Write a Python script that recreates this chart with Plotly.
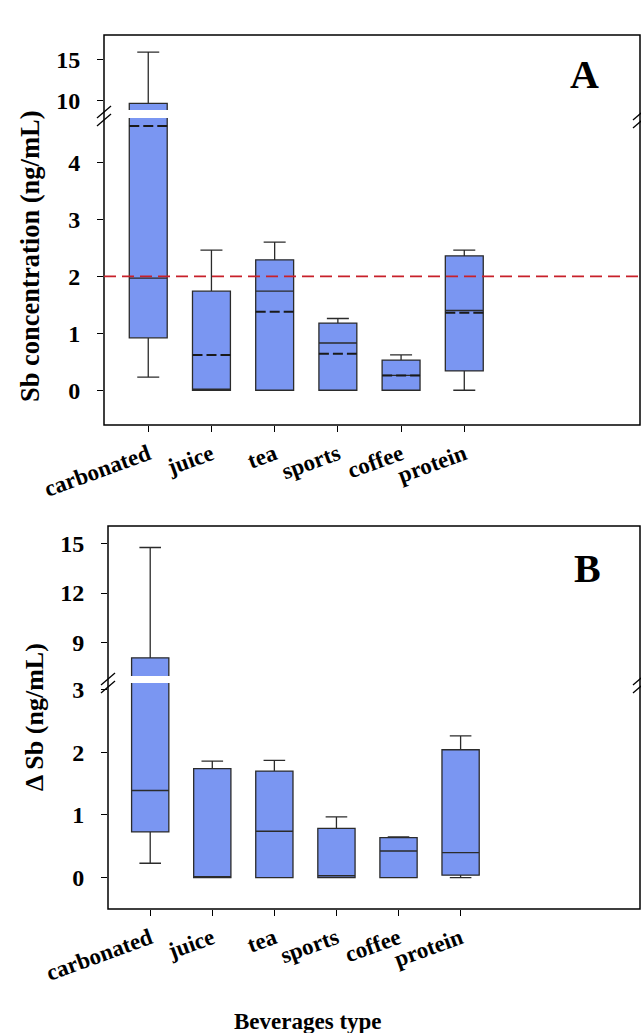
import plotly.graph_objects as go

W, H = 641, 1033

categories = ["carbonated", "juice", "tea", "sports", "coffee", "protein"]

# Panel A: Sb concentration (ng/mL)
a_lower = [0.23, 0.0, 0.0, 0.0, 0.0, 0.0]
a_q1 = [0.92, 0.0, 0.0, 0.0, 0.0, 0.34]
a_median = [1.97, 0.0, 1.74, 0.83, 0.26, 1.40]
a_q3 = [9.72, 1.74, 2.29, 1.18, 0.53, 2.36]
a_upper = [15.85, 2.46, 2.60, 1.26, 0.62, 2.46]
a_mean = [4.64, 0.62, 1.38, 0.64, 0.26, 1.36]
a_limit = 2.0

# Panel B: delta Sb (ng/mL)
b_lower = [0.23, 0.0, 0.0, 0.0, 0.0, 0.0]
b_q1 = [0.73, 0.0, 0.0, 0.0, 0.0, 0.04]
b_median = [1.39, 0.0, 0.74, 0.03, 0.425, 0.40]
b_q3 = [8.09, 1.74, 1.70, 0.785, 0.64, 2.04]
b_upper = [14.75, 1.86, 1.87, 0.97, 0.65, 2.26]

a_ticks_low = [0, 1, 2, 3, 4]
a_ticks_high = [10, 15]
b_ticks_low = [0, 1, 2, 3]
b_ticks_high = [9, 12, 15]

BOX_W = 0.6
positions = list(range(len(categories)))


def px(x):
    return x / W


def py(y):
    return 1 - y / H


FONT = "Liberation Serif"
FILL = "#7A96F2"
EDGE = "#2b2b2b"

fig = go.Figure()


def add_boxes(xa, ya, lf, q1, med, q3, uf):
    fig.add_trace(go.Box(
        x=positions, lowerfence=lf, q1=q1, median=med, q3=q3, upperfence=uf,
        fillcolor=FILL, line=dict(color=EDGE, width=1.3), width=BOX_W,
        whiskerwidth=0.58, boxpoints=False, showlegend=False,
        xaxis=xa, yaxis=ya, hoverinfo="skip",
    ))


def add_means(xa, ya, means):
    xs, ys = [], []
    for p, m in zip(positions, means):
        xs += [p - BOX_W / 2, p + BOX_W / 2, None]
        ys += [m, m, None]
    fig.add_trace(go.Scatter(x=xs, y=ys, mode="lines", xaxis=xa, yaxis=ya,
                             line=dict(color="#1a1a1a", width=2, dash="10px,4px"),
                             showlegend=False, hoverinfo="skip"))


for ya in ("y", "y2"):
    add_boxes("x", ya, a_lower, a_q1, a_median, a_q3, a_upper)
    add_means("x", ya, a_mean)
for ya in ("y3", "y4"):
    add_boxes("x2", ya, b_lower, b_q1, b_median, b_q3, b_upper)

tickfont = dict(family=FONT, size=24, color="black", weight="bold")
xtickfont = dict(family=FONT, size=23, color="black", weight="bold")

yax_common = dict(ticks="outside", ticklen=6, tickwidth=1.2, tickcolor="black",
                  showgrid=False, zeroline=False, showline=False, automargin=False,
                  tickfont=tickfont, ticklabelstandoff=12)
xax_common = dict(tickvals=positions, ticktext=categories, ticks="outside",
                  ticklen=6, tickwidth=1.2, tickcolor="black", showgrid=False,
                  showline=False, zeroline=False, automargin=False,
                  tickangle=-20, tickfont=xtickfont)

fig.update_layout(
    template="none",
    width=W, height=H,
    margin=dict(l=0, r=0, t=0, b=0, autoexpand=False),
    paper_bgcolor="white", plot_bgcolor="rgba(0,0,0,0)",
    xaxis=dict(domain=[px(104), px(640)], range=[-0.70, 7.78], anchor="y", **xax_common),
    yaxis=dict(domain=[py(425), py(118)], range=[-0.61, 4.78], anchor="x",
               tickvals=a_ticks_low, **yax_common),
    yaxis2=dict(domain=[py(110), py(35)], range=[8.92, 17.9], anchor="x",
                tickvals=a_ticks_high, **yax_common),
    xaxis2=dict(domain=[px(108), px(640)], range=[-0.68, 7.89], anchor="y3", **xax_common),
    yaxis3=dict(domain=[py(909), py(683)], range=[-0.5, 3.105], anchor="x2",
                tickvals=b_ticks_low, **yax_common),
    yaxis4=dict(domain=[py(676), py(526)], range=[6.99, 16.05], anchor="x2",
                tickvals=b_ticks_high, **yax_common),
)

shapes = []
# frames
for (l, t, r, b) in [(104, 35, 640, 425), (108, 526, 640, 909)]:
    shapes.append(dict(type="rect", xref="paper", yref="paper",
                       x0=px(l), x1=px(r), y0=py(b), y1=py(t),
                       line=dict(color="black", width=1.5), layer="above"))
# threshold line in panel A
shapes.append(dict(type="line", xref="x domain", yref="y", x0=0, x1=1,
                   y0=a_limit, y1=a_limit,
                   line=dict(color="#C8202A", width=1.6, dash="12px,6px")))


def brk(xc, yc):
    for off in (-4, 4):
        shapes.append(dict(type="line", xref="paper", yref="paper",
                           x0=px(xc - 7), y0=py(yc + off + 6),
                           x1=px(xc + 7), y1=py(yc + off - 6),
                           line=dict(color="black", width=1.3)))


brk(104, 116)
brk(640, 118)
brk(108, 683)
brk(640, 683)

fig.update_layout(shapes=shapes)


def label(text, x, y, size, angle=0):
    return dict(text=text, x=px(x), y=py(y), xref="paper", yref="paper",
                xanchor="center", yanchor="middle", textangle=angle,
                showarrow=False,
                font=dict(family=FONT, size=size, color="black", weight="bold"))


fig.update_layout(annotations=[
    label("A", 584, 74, 40),
    label("B", 587, 568, 40),
    label("Sb concentration (ng/mL)", 30, 256, 26.5, -90),
    label("Δ Sb (ng/mL)", 34, 717, 26, -90),
    label("Beverages type", 308, 1021, 23),
])

fig.write_html(
    "out.html",
    config={"displayModeBar": False},
    post_script="document.body.style.margin='0';document.body.style.overflow='hidden';",
)
